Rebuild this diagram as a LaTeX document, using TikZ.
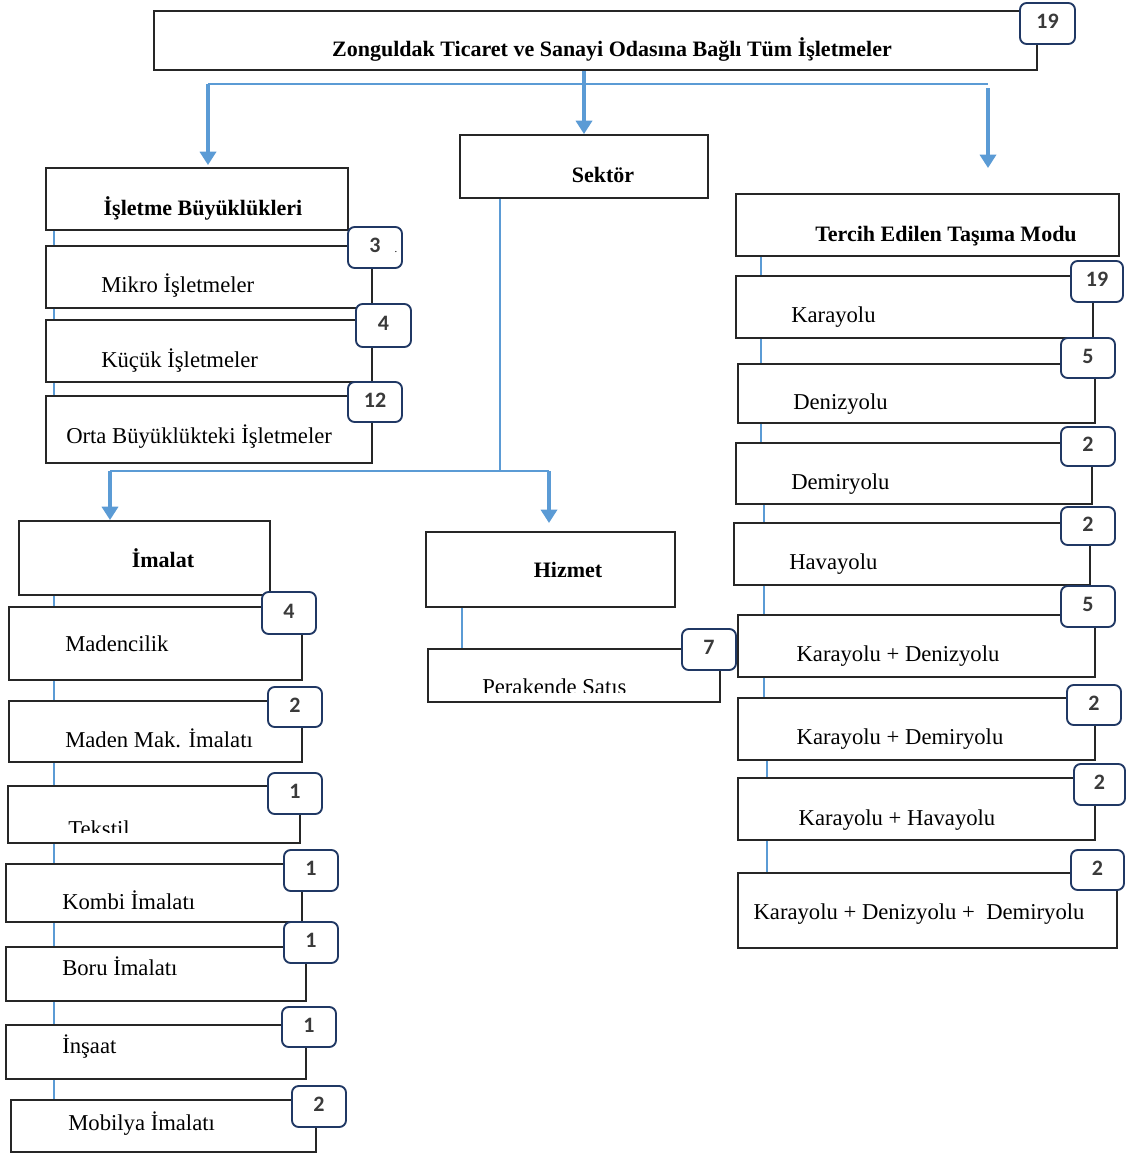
\documentclass[tikz,border=0pt]{standalone}
\usepackage{fontspec}
\setmainfont{Liberation Serif}
\newfontfamily\numfont{Carlito}
\usetikzlibrary{fit,arrows.meta}
\definecolor{blueline}{HTML}{5B9BD5}
\definecolor{navy}{HTML}{203864}
\definecolor{numcol}{HTML}{3A3A3A}
\newcommand{\mybox}[5]{\node[box, fit={(#2,#3) (#4,#5)}] (#1) {};}
\newcommand{\mybadge}[6]{\node[badge, fit={(#2,#3) (#4,#5)}] (#1) {};
  \node[numtxt] (#1-n) at ([yshift=1.5pt]#1.center) {#6};}
\begin{document}
\begin{tikzpicture}[x=0.75pt,y=-0.75pt,
  box/.style={draw=black!85, line width=1.4pt, fill=white, inner sep=0pt},
  badge/.style={draw=navy, line width=1.4pt, rounded corners=5pt, fill=white, inner sep=0pt},
  numtxt/.style={inner sep=0pt, anchor=center, font=\numfont\bfseries\fontsize{16.5}{18}\selectfont, text=numcol},
  conn/.style={draw=blueline, line width=1.5pt},
  arr/.style={draw=blueline, line width=3pt, -{Triangle[width=12pt,length=10pt]}},
  lbl/.style={font=\fontsize{17}{20}\selectfont, inner sep=0pt, anchor=base west},
  ttl/.style={font=\bfseries\fontsize{16.5}{20}\selectfont, inner sep=0pt, anchor=base}]
\useasboundingbox[fill=white] (0,0) rectangle (1125,1153);

% ---------- coordinates for connectors
\coordinate (aL) at (208,84);
\coordinate (aR) at (988,84);
\coordinate (aR1) at (988,88);
\coordinate (aR2) at (988,168);
\coordinate (lx) at (54,0);
\coordinate (rx1) at (761,0);
\coordinate (rx2) at (764,0);
\coordinate (rx3) at (767,0);
\coordinate (sx) at (500,0);
\coordinate (jL) at (110,471);
\coordinate (jR) at (549,471);
\coordinate (jR2) at (549,523);
\coordinate (hx) at (462,0);

% ---------- top
\mybox{top}{154}{11}{1037}{70}
\node[ttl] (topt) at (612,56) {Zonguldak Ticaret ve Sanayi Odasına Bağlı Tüm İşletmeler};

% ---------- İşletme Büyüklükleri column
\mybox{isb}{46}{168}{348}{230}
\node[ttl] (isbt) at (203,215) {İşletme Büyüklükleri};
\mybox{mik}{46}{246}{372}{308}
\node[lbl] (mikt) at (101,292) {Mikro İşletmeler};
\mybox{kuc}{46}{320}{372}{382}
\node[lbl] (kuct) at (101,367) {Küçük İşletmeler};
\mybox{ort}{46}{396}{372}{463}
\node[lbl] (ortt) at (66,443) {Orta Büyüklükteki İşletmeler};
\draw[conn] (isb.south -| lx) -- (mik.north -| lx);
\draw[conn] (mik.south -| lx) -- (kuc.north -| lx);
\draw[conn] (kuc.south -| lx) -- (ort.north -| lx);

% ---------- Sektör
\mybox{sek}{460}{135}{708}{198}
\node[ttl] (sekt) at (603,182) {Sektör};

% ---------- Tercih Edilen Taşıma Modu column
\mybox{ter}{736}{194}{1119}{256}
\node[ttl] (tert) at (946,241) {Tercih Edilen Taşıma Modu};
\mybox{kar}{736}{276}{1093}{338}
\node[lbl] (kart) at (791,322) {Karayolu};
\mybox{den}{738}{364}{1095}{423}
\node[lbl] (dent) at (793,409) {Denizyolu};
\mybox{dem}{736}{443}{1092}{504}
\node[lbl] (demt) at (791,489) {Demiryolu};
\mybox{hav}{734}{523}{1090}{585}
\node[lbl] (havt) at (789,569) {Havayolu};
\mybox{kd}{738}{615}{1095}{677}
\node[lbl,anchor=base] (kdt) at (898,661) {Karayolu + Denizyolu};
\mybox{kdm}{738}{698}{1095}{760}
\node[lbl,anchor=base] (kdmt) at (900,744) {Karayolu + Demiryolu};
\mybox{kh}{738}{778}{1095}{840}
\node[lbl,anchor=base] (kht) at (897,825) {Karayolu + Havayolu};
\mybox{kdd}{738}{873}{1117}{948}
\node[lbl,anchor=base] (kddt) at (919,919) {Karayolu + Denizyolu + \ Demiryolu};
\draw[conn] (ter.south -| rx1) -- (kar.north -| rx1);
\draw[conn] (kar.south -| rx1) -- (den.north -| rx1);
\draw[conn] (den.south -| rx1) -- (dem.north -| rx1);
\draw[conn] (dem.south -| rx2) -- (hav.north -| rx2);
\draw[conn] (hav.south -| rx2) -- (kd.north -| rx2);
\draw[conn] (kd.south -| rx2) -- (kdm.north -| rx2);
\draw[conn] (kdm.south -| rx3) -- (kh.north -| rx3);
\draw[conn] (kh.south -| rx3) -- (kdd.north -| rx3);

% ---------- İmalat column
\mybox{ima}{19}{521}{270}{595}
\node[ttl] (imat) at (163,567) {İmalat};
\mybox{mad}{9}{607}{302}{680}
\node[lbl] (madt) at (65,651) {Madencilik};
\mybox{mmi}{9}{701}{302}{762}
\node[lbl] (mmit) at (65,747) {Maden Mak. İmalatı};
\mybox{tek}{8}{786}{300}{843}
\begin{scope}
\clip (0,780) rectangle (310,832);
\node[lbl] (tekt) at (68,836) {Tekstil};
\end{scope}
\mybox{kom}{6}{864}{302}{922}
\node[lbl] (komt) at (62,909) {Kombi İmalatı};
\mybox{bor}{6}{947}{306}{1001}
\node[lbl] (bort) at (62,975) {Boru İmalatı};
\mybox{ins}{6}{1025}{306}{1079}
\node[lbl] (inst) at (62,1053) {İnşaat};
\mybox{mob}{11}{1100}{316}{1152}
\node[lbl] (mobt) at (68,1130) {Mobilya İmalatı};
\draw[conn] (ima.south -| lx) -- (mad.north -| lx);
\draw[conn] (mad.south -| lx) -- (mmi.north -| lx);
\draw[conn] (mmi.south -| lx) -- (tek.north -| lx);
\draw[conn] (tek.south -| lx) -- (kom.north -| lx);
\draw[conn] (kom.south -| lx) -- (bor.north -| lx);
\draw[conn] (bor.south -| lx) -- (ins.north -| lx);
\draw[conn] (ins.south -| lx) -- (mob.north -| lx);

% ---------- Hizmet column
\mybox{hiz}{426}{532}{675}{607}
\node[ttl] (hizt) at (568,577) {Hizmet};
\mybox{per}{428}{649}{720}{702}
\begin{scope}
\clip (420,640) rectangle (730,692);
\node[lbl] (pert) at (482,694) {Perakende Satış};
\end{scope}
\draw[conn] (hiz.south -| hx) -- (per.north -| hx);

% ---------- blue connectors and arrows
\draw[conn] (aL) -- (aR);
\draw[arr] (aL) -- ([yshift=1.5pt]isb.north -| aL);
\draw[arr] (top.south -| sek.north) -- (sek.north);
\draw[arr] (aR1) -- (aR2);
\draw[conn] (sek.south -| sx) -- (sx |- jL);
\draw[conn] (jL) -- (jR);
\draw[arr] (jL) -- (ima.north -| jL);
\draw[arr] (jR) -- (jR2);

% ---------- badges
\mybadge{b0}{1020}{3}{1075}{44}{19\hspace{6pt}}
\mybadge{b1}{348}{227}{402}{268}{3}
\node[inner sep=0pt, font=\fontsize{8}{8}\selectfont] (b1dot) at (396,252) {.};
\mybadge{b2}{356}{304}{411}{347}{4}
\mybadge{b3}{348}{382}{402}{422}{12}
\mybadge{r1}{1071}{261}{1123}{302}{19}
\mybadge{r2}{1061}{338}{1115}{378}{5}
\mybadge{r3}{1061}{427}{1115}{466}{2}
\mybadge{r4}{1061}{507}{1115}{545}{2}
\mybadge{r5}{1061}{586}{1115}{627}{5}
\mybadge{r6}{1067}{685}{1121}{725}{2}
\mybadge{r7}{1074}{764}{1125}{805}{2}
\mybadge{r8}{1071}{850}{1124}{890}{2}
\mybadge{l1}{262}{592}{316}{634}{4}
\mybadge{l2}{268}{687}{322}{727}{2}
\mybadge{l3}{268}{773}{322}{814}{1}
\mybadge{l4}{284}{850}{338}{891}{1}
\mybadge{l5}{284}{922}{338}{963}{1}
\mybadge{l6}{282}{1007}{336}{1047}{1}
\mybadge{l7}{292}{1086}{346}{1127}{2}
\mybadge{h1}{682}{629}{736}{670}{7}
\end{tikzpicture}
\end{document}
